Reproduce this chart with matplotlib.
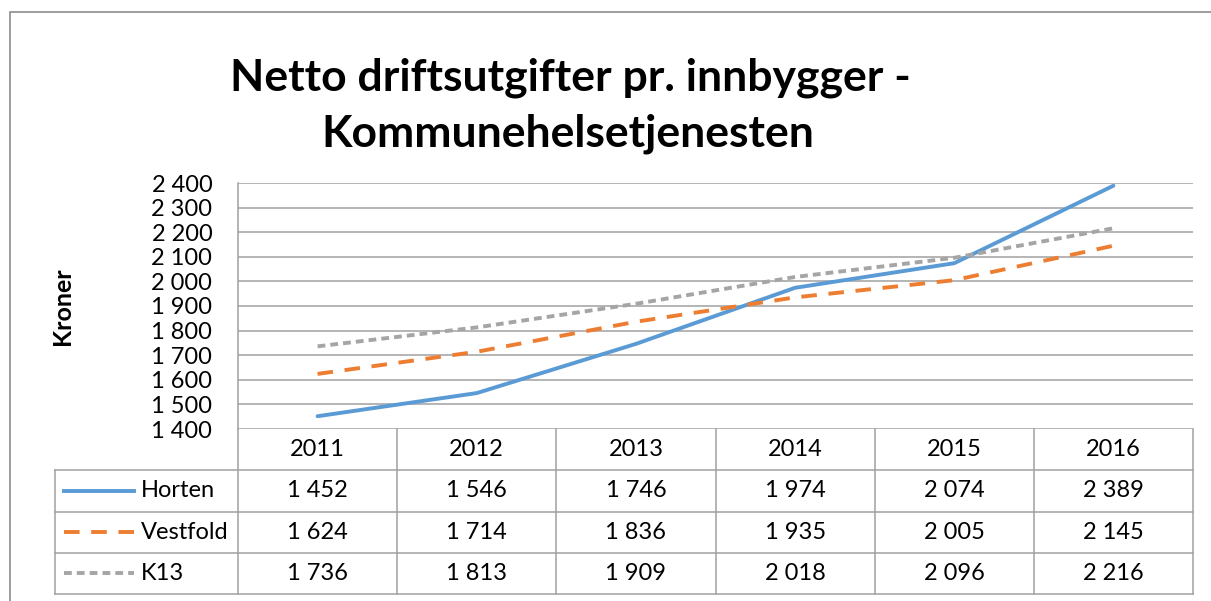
import matplotlib
matplotlib.use("Agg")
import matplotlib.pyplot as plt
from matplotlib.patches import Rectangle

plt.rcParams['font.family'] = ['Lato', 'DejaVu Sans']

years = [2011, 2012, 2013, 2014, 2015, 2016]
horten = [1452, 1546, 1746, 1974, 2074, 2389]
vestfold = [1624, 1714, 1836, 1935, 2005, 2145]
k13 = [1736, 1813, 1909, 2018, 2096, 2216]
series_names = ["Horten", "Vestfold", "K13"]
y_ticks = list(range(1400, 2401, 100))

colors = ["#5B9BD5", "#ED7D31", "#A5A5A5"]
dashes = [None, (4, 3), (2.0, 1.3)]
grid_col = "#A0A0A0"

W, H = 1211, 601
fig = plt.figure(figsize=(W / 100, H / 100), dpi=100)

def fmt(v):
    return f"{v:,}".replace(",", " ")

# outer chart border (only left and top show in the frame)
fig.patches.append(Rectangle((10 / W, -0.05), 1.2, 1 - 12 / H + 0.05, transform=fig.transFigure,
                             fill=False, edgecolor="#8C8C8C", linewidth=1.2))

# title
fig.text(570 / W, 1 - 90 / H, "Netto driftsutgifter pr. innbygger -", ha="center", va="baseline",
         fontsize=32, fontweight="bold")
fig.text(568 / W, 1 - 146 / H, "Kommunehelsetjenesten", ha="center", va="baseline",
         fontsize=32, fontweight="bold")

# plot area
left, right, top, bottom = 238, 1193, 183, 429
ax = fig.add_axes([left / W, 1 - bottom / H, (right - left) / W, (bottom - top) / H])
x = list(range(len(years)))
data = [horten, vestfold, k13]
for vals, c, d in zip(data, colors, dashes):
    ln, = ax.plot(x, vals, color=c, linewidth=2.8, solid_capstyle="round")
    if d is not None:
        ln.set_dashes(d)
ax.set_xlim(-0.5, len(years) - 0.5)
ax.set_ylim(1400, 2400)
ax.set_yticks(y_ticks)
ax.set_yticklabels([fmt(v) for v in y_ticks], fontsize=17)
ax.yaxis.grid(True, color=grid_col, linewidth=1.1)
ax.set_axisbelow(True)
ax.tick_params(axis="y", length=0, pad=18.5)
ax.set_xticks([])
for s in ["top", "right", "bottom"]:
    ax.spines[s].set_visible(False)
ax.spines["left"].set_color(grid_col)
ax.spines["left"].set_linewidth(1.1)

fig.text(62 / W, 1 - 306 / H, "Kroner", rotation=90, ha="center", va="center",
         fontsize=18, fontweight="bold")

# data table
colw = (right - left) / len(years)
tleft, tbottom = 55, 594
tax = fig.add_axes([tleft / W, 1 - tbottom / H, (right - tleft) / W, (tbottom - bottom) / H])
x0 = -0.5 - (left - tleft) / colw
tax.set_xlim(x0, len(years) - 0.5)
tax.set_ylim(4, 0)
tax.axis("off")
lc = dict(color=grid_col, linewidth=1.1, clip_on=False)
for i in range(len(years) + 1):
    tax.plot([i - 0.5, i - 0.5], [0, 4], **lc)
tax.plot([x0, x0], [1, 4], **lc)
for r in range(1, 5):
    tax.plot([x0, len(years) - 0.5], [r, r], **lc)
for i, yr in enumerate(years):
    tax.text(i, 0.5, str(yr), ha="center", va="center", fontsize=17)
key_x0 = x0 + 9 / colw
key_x1 = x0 + 79 / colw
for r, (name, vals, c, d) in enumerate(zip(series_names, data, colors, dashes), start=1):
    ln, = tax.plot([key_x0, key_x1], [r + 0.5, r + 0.5], color=c, linewidth=2.8, clip_on=False)
    if d is not None:
        ln.set_dashes(d)
    tax.text(x0 + 86 / colw, r + 0.5, name, ha="left", va="center", fontsize=17)
    for i, v in enumerate(vals):
        tax.text(i, r + 0.5, fmt(v), ha="center", va="center", fontsize=17)

fig.savefig("out.png", dpi=100)
